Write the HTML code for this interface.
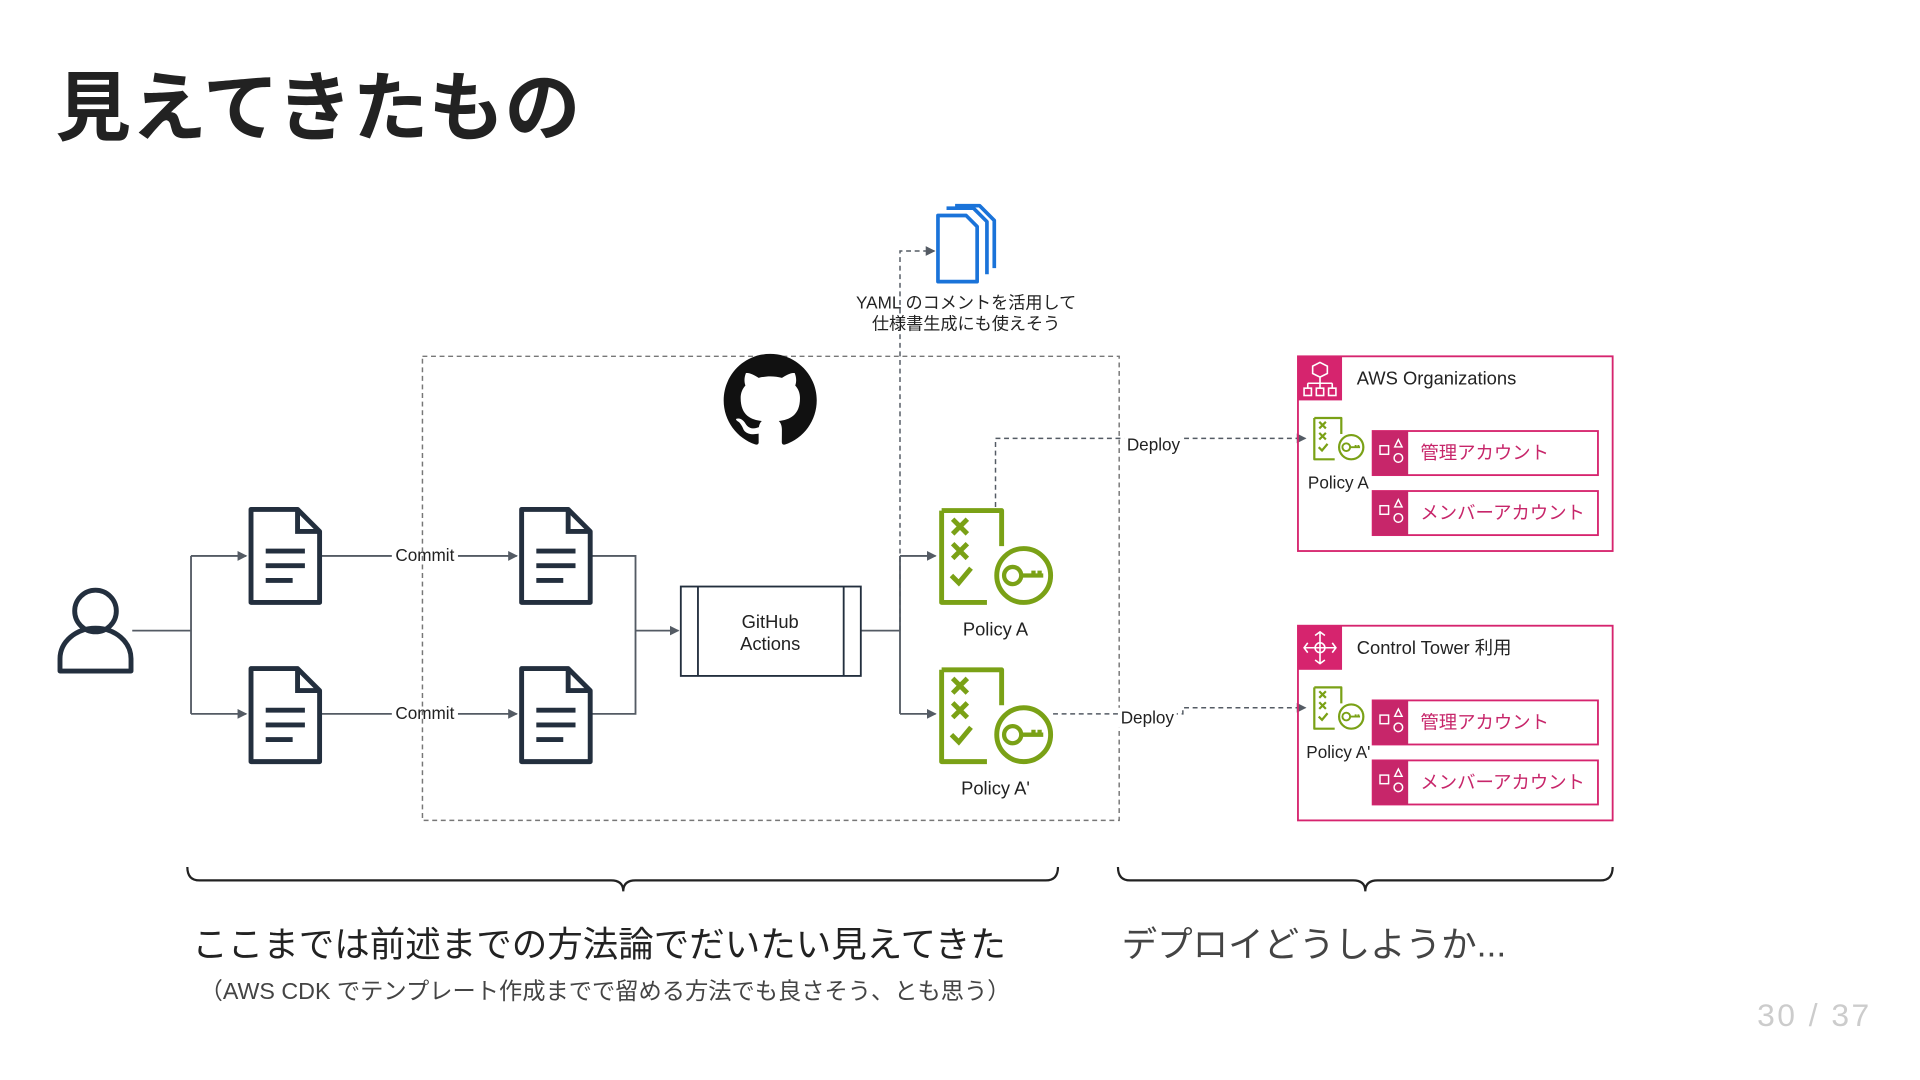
<!DOCTYPE html>
<html><head><meta charset="utf-8"><style>
html,body{margin:0;padding:0;background:#fff;width:1920px;height:1080px;overflow:hidden}
svg{display:block}
text{font-family:"Liberation Sans","Noto Sans CJK JP",sans-serif}
</style></head><body>
<svg width="1920" height="1080" viewBox="0 0 1568 882" xmlns="http://www.w3.org/2000/svg">
<defs>
<marker id="ar" markerWidth="8" markerHeight="8" refX="7" refY="4" orient="auto" markerUnits="userSpaceOnUse"><path d="M0,0 L8,4 L0,8z" fill="#545b64"/></marker>
<g id="doc"><path d="M2,2 H40 L58,20 V78 H2 Z" fill="none" stroke="#232f3e" stroke-width="4" stroke-linejoin="round"/><path d="M40,2 V20 H58" fill="none" stroke="#232f3e" stroke-width="4"/><path d="M14,36 H46 M14,48 H46 M14,60 H36" stroke="#232f3e" stroke-width="4"/></g>
<g id="pol"><path d="M3,3 H52 V32 M40,78 H3 V3" fill="none" stroke="#7aa116" stroke-width="4" stroke-linejoin="round"/>
<path d="M12,10 l12,12 m0,-12 l-12,12 M12,30 l12,12 m0,-12 l-12,12 M11,56 l6,6 l10,-12" stroke="#7aa116" stroke-width="4" fill="none"/>
<circle cx="70" cy="56" r="22" fill="#fff" stroke="#7aa116" stroke-width="4"/><circle cx="61" cy="56" r="7" fill="none" stroke="#7aa116" stroke-width="3.5"/><path d="M68,56 H86 M78,56 v-4 M83,56 v-4" stroke="#7aa116" stroke-width="3.5"/></g>
<g id="acc"><rect x="0" y="0" width="184" height="36" fill="#fff" stroke="#d6246e" stroke-width="1.5"/><rect x="0" y="0" width="29" height="36" fill="#c7266a"/><rect x="6" y="12" width="7" height="7" fill="none" stroke="#fff" stroke-width="1.2"/><path d="M18,13 l3,-6 l3,6z" fill="none" stroke="#fff" stroke-width="1.2"/><circle cx="21" cy="22" r="3.5" fill="none" stroke="#fff" stroke-width="1.2"/></g>
</defs>

<text x="45" y="110" font-size="62" font-weight="bold" fill="#222">見えてきたもの</text>

<circle cx="78" cy="499" r="17" fill="none" stroke="#232f3e" stroke-width="4"/>
<path d="M49,548 V538 a29,25 0 0 1 58,0 V548 Z" fill="none" stroke="#232f3e" stroke-width="4" stroke-linejoin="round"/>

<g stroke="#545b64" stroke-width="1.5" fill="none">
<path d="M108,515 H156 M156,454 V583"/>
<path d="M156,454 H201" marker-end="url(#ar)"/><path d="M156,583 H201" marker-end="url(#ar)"/>
<path d="M262,454 H422" marker-end="url(#ar)"/><path d="M262,583 H422" marker-end="url(#ar)"/>
<path d="M483,454 H519 V583 H483"/><path d="M519,515 H554" marker-end="url(#ar)"/>
<path d="M703,515 H735 M735,454 V583"/>
<path d="M735,454 H764" marker-end="url(#ar)"/><path d="M735,583 H764" marker-end="url(#ar)"/>
</g>
<rect x="320" y="445" width="54" height="16" fill="#fff"/><text x="347" y="458" font-size="14" text-anchor="middle" fill="#222">Commit</text>
<rect x="320" y="574" width="54" height="16" fill="#fff"/><text x="347" y="587" font-size="14" text-anchor="middle" fill="#222">Commit</text>

<use href="#doc" x="203" y="414"/><use href="#doc" x="203" y="544"/>
<use href="#doc" x="424" y="414"/><use href="#doc" x="424" y="544"/>

<rect x="556" y="479" width="147" height="73" fill="#fff" stroke="#232f3e" stroke-width="1.5"/>
<path d="M570,479 V552 M689,479 V552" stroke="#232f3e" stroke-width="1.5"/>
<text x="629" y="513" font-size="15" text-anchor="middle" fill="#222">GitHub</text>
<text x="629" y="531" font-size="15" text-anchor="middle" fill="#222">Actions</text>

<rect x="345" y="291" width="569" height="379" fill="none" stroke="#777" stroke-width="1.2" stroke-dasharray="4,3"/>

<path d="M735,515 V205 H763" fill="none" stroke="#545b64" stroke-width="1.2" stroke-dasharray="4,3" marker-end="url(#ar)"/>
<g fill="none" stroke="#1a73d9" stroke-width="3" stroke-linejoin="round">
<path d="M766,176 H789 L798,185 V230 H766 Z"/><path d="M773,170 H795 L806,181 V224"/><path d="M780,168 H800 L812,180 V219"/></g>
<text x="789" y="252" font-size="14" text-anchor="middle" fill="#222">YAML のコメントを活用して</text>
<text x="789" y="269" font-size="14" text-anchor="middle" fill="#222">仕様書生成にも使えそう</text>

<g transform="translate(591,289) scale(4.75)">
<path fill="#111" d="M8 0C3.58 0 0 3.58 0 8c0 3.54 2.290 6.53 5.47 7.59.4.07.55-.17.55-.38 0-.19-.01-.82-.01-1.49-2.01.37-2.53-.49-2.69-.94-.09-.23-.48-.94-.82-1.13-.28-.15-.68-.52-.01-.53.63-.01 1.08.58 1.230.82.72 1.21 1.87.87 2.33.66.07-.52.28-.87.51-1.07-1.78-.2-3.64-.89-3.64-3.95 0-.87.31-1.59.82-2.15-.08-.2-.36-1.02.08-2.12 0 0 .67-.21 2.2.82.64-.18 1.32-.27 2-.27.68 0 1.36.09 2 .27 1.53-1.04 2.2-.82 2.2-.82.44 1.1.16 1.92.08 2.12.51.56.82 1.27.82 2.15 0 3.07-1.87 3.75-3.65 3.95.29.25.54.73.54 1.48 0 1.07-.01 1.93-.01 2.2 0 .21.15.46.55.38A8.013 8.013 0 0016 8c0-4.42-3.58-8-8-8z"/>
</g>

<use href="#pol" x="766" y="414"/><use href="#pol" x="766" y="544"/>
<text x="813" y="519" font-size="15" text-anchor="middle" fill="#222">Policy A</text>
<text x="813" y="649" font-size="15" text-anchor="middle" fill="#222">Policy A'</text>

<path d="M813,414 V358 H1066" fill="none" stroke="#545b64" stroke-width="1.2" stroke-dasharray="4,3" marker-end="url(#ar)"/>
<path d="M860,583 H966 V578 H1066" fill="none" stroke="#545b64" stroke-width="1.2" stroke-dasharray="4,3" marker-end="url(#ar)"/>
<rect x="918" y="355" width="48" height="16" fill="#fff"/><text x="942" y="368" font-size="14" text-anchor="middle" fill="#222">Deploy</text>
<rect x="913" y="578" width="48" height="16" fill="#fff"/><text x="937" y="591" font-size="14" text-anchor="middle" fill="#222">Deploy</text>

<rect x="1060" y="291" width="257" height="159" fill="none" stroke="#d6246e" stroke-width="1.5"/>
<rect x="1060" y="291" width="36" height="36" fill="#d6246e"/>
<g stroke="#fff" stroke-width="1.3" fill="none"><path d="M1078,296 l6,3 v6 l-6,3 l-6,-3 v-6z M1078,308 V313 M1068,313 H1088 M1068,313 V317 M1078,313 V317 M1088,313 V317"/><rect x="1065" y="317" width="6" height="6"/><rect x="1075" y="317" width="6" height="6"/><rect x="1085" y="317" width="6" height="6"/></g>
<text x="1108" y="314" font-size="15" fill="#222">AWS Organizations</text>
<use href="#pol" x="1072" y="340" transform="translate(1072,340) scale(0.45) translate(-1072,-340)"/>
<text x="1093" y="399" font-size="14" text-anchor="middle" fill="#222">Policy A</text>
<use href="#acc" x="1121" y="352"/><text x="1160" y="375" font-size="15" fill="#c7266a">管理アカウント</text>
<use href="#acc" x="1121" y="401"/><text x="1160" y="424" font-size="15" fill="#c7266a">メンバーアカウント</text>

<rect x="1060" y="511" width="257" height="159" fill="none" stroke="#d6246e" stroke-width="1.5"/>
<rect x="1060" y="511" width="36" height="36" fill="#d6246e"/>
<g stroke="#fff" stroke-width="1.3" fill="none"><circle cx="1078" cy="529" r="4"/><path d="M1078,516 V542 M1065,529 H1091 M1074,519 l4,-3 l4,3 M1074,539 l4,3 l4,-3 M1068,525 l-3,4 l3,4 M1088,525 l3,4 l-3,4"/></g>
<text x="1108" y="534" font-size="15" fill="#222">Control Tower 利用</text>
<use href="#pol" x="1072" y="560" transform="translate(1072,560) scale(0.45) translate(-1072,-560)"/>
<text x="1093" y="619" font-size="14" text-anchor="middle" fill="#222">Policy A'</text>
<use href="#acc" x="1121" y="572"/><text x="1160" y="595" font-size="15" fill="#c7266a">管理アカウント</text>
<use href="#acc" x="1121" y="621"/><text x="1160" y="644" font-size="15" fill="#c7266a">メンバーアカウント</text>

<path d="M153,708 q0,11 10,11 H499 q10,0 10,9 q0,-9 10,-9 H854 q10,0 10,-11" fill="none" stroke="#222" stroke-width="1.8"/>
<path d="M913,708 q0,11 10,11 H1105 q10,0 10,9 q0,-9 10,-9 H1307 q10,0 10,-11" fill="none" stroke="#222" stroke-width="1.8"/>

<text x="157" y="781" font-size="29" fill="#222">ここまでは前述までの方法論でだいたい見えてきた</text>
<text x="163" y="816" font-size="19" fill="#444">（AWS CDK でテンプレート作成までで留める方法でも良さそう、とも思う）</text>
<text x="916" y="781" font-size="29" fill="#444">デプロイどうしようか...</text>
<text x="1435" y="838" font-size="26" fill="#ccc" letter-spacing="2">30 / 37</text>
</svg>
</body></html>
